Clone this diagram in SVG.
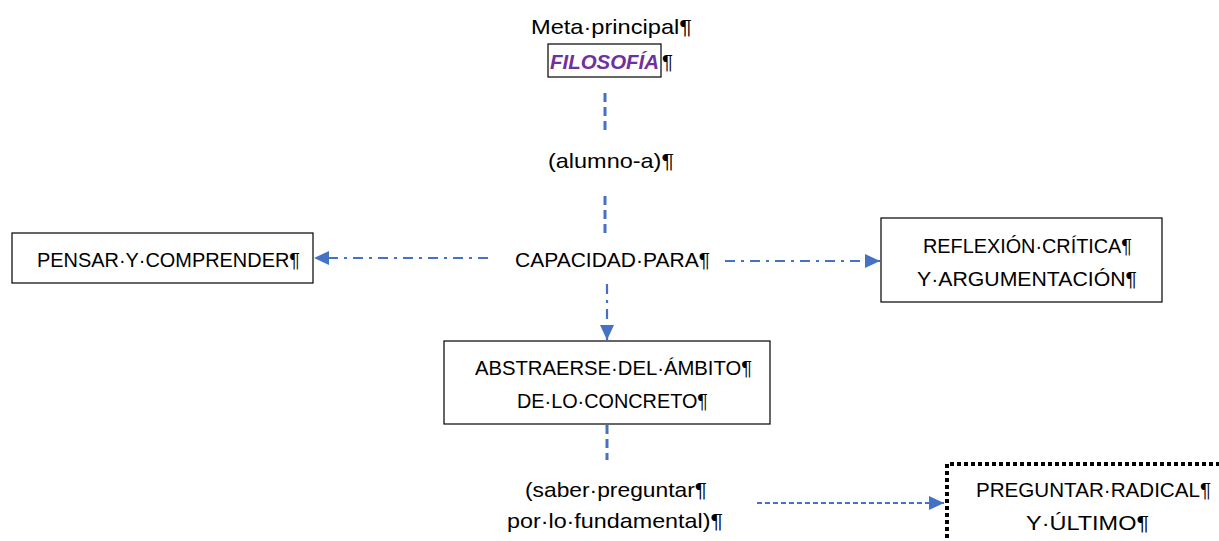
<svg xmlns="http://www.w3.org/2000/svg" width="1219" height="541" viewBox="0 0 1219 541">
<defs>
<style>
text{font-family:"Liberation Sans",Arial,sans-serif;font-size:21px;fill:#000}
.box{fill:#fff;stroke:#000;stroke-width:1.2}
.c{fill:none;stroke:#4472C4}
.dash{stroke-width:3;stroke-dasharray:9 5}
.dd{stroke-width:2.2;stroke-dasharray:10 6 3 6}
.sd{stroke-width:2.2;stroke-dasharray:5 3}
</style>
<marker id="ah" markerUnits="userSpaceOnUse" markerWidth="16" markerHeight="14" refX="15" refY="7" orient="auto">
<path d="M0,0 L15,7 L0,14 Z" fill="#4472C4"/>
</marker>
</defs>
<rect width="1219" height="541" fill="#fff"/>
<g id="connectors">
<line class="c dash" x1="605" y1="93" x2="605" y2="134"/>
<line class="c dash" x1="605" y1="196" x2="605" y2="233"/>
<line class="c dd" x1="488" y1="258" x2="314" y2="258" marker-end="url(#ah)"/>
<line class="c dd" x1="725" y1="261" x2="880" y2="261" marker-end="url(#ah)"/>
<line class="c dd" x1="607" y1="284" x2="607" y2="340" marker-end="url(#ah)"/>
<line class="c dash" x1="607" y1="425" x2="607" y2="460"/>
<line class="c sd" x1="757" y1="503" x2="944" y2="503" marker-end="url(#ah)"/>
</g>
<g id="meta">
<text x="531" y="34" textLength="161" lengthAdjust="spacingAndGlyphs">Meta·principal¶</text>
<rect class="box" x="548" y="44" width="113" height="33"/>
<text x="550" y="69" textLength="109" lengthAdjust="spacingAndGlyphs" style="font-style:italic;font-weight:bold;fill:#7030A0">FILOSOFÍA</text>
<text x="662" y="69" textLength="11" lengthAdjust="spacingAndGlyphs">¶</text>
</g>
<g id="alumno">
<text x="548" y="168" textLength="126" lengthAdjust="spacingAndGlyphs">(alumno-a)¶</text>
</g>
<g id="capacidad">
<text x="515" y="267" textLength="195" lengthAdjust="spacingAndGlyphs">CAPACIDAD·PARA¶</text>
</g>
<g id="pensar">
<rect class="box" x="12" y="233" width="301" height="50"/>
<text x="37" y="267" textLength="263" lengthAdjust="spacingAndGlyphs">PENSAR·Y·COMPRENDER¶</text>
</g>
<g id="reflexion">
<rect class="box" x="881" y="218" width="281" height="84"/>
<text x="923" y="253" textLength="209" lengthAdjust="spacingAndGlyphs">REFLEXIÓN·CRÍTICA¶</text>
<text x="917" y="286" textLength="220" lengthAdjust="spacingAndGlyphs">Y·ARGUMENTACIÓN¶</text>
</g>
<g id="abstraerse">
<rect class="box" x="444" y="341" width="326" height="83"/>
<text x="475" y="375" textLength="277" lengthAdjust="spacingAndGlyphs">ABSTRAERSE·DEL·ÁMBITO¶</text>
<text x="517" y="408" textLength="191" lengthAdjust="spacingAndGlyphs">DE·LO·CONCRETO¶</text>
</g>
<g id="saber">
<text x="525" y="497" textLength="182" lengthAdjust="spacingAndGlyphs">(saber·preguntar¶</text>
<text x="507" y="528" textLength="216" lengthAdjust="spacingAndGlyphs">por·lo·fundamental)¶</text>
</g>
<g id="preguntar">
<path d="M947,545 V464 H1225" fill="none" stroke="#000" stroke-width="4" stroke-dasharray="4 3"/>
<text x="976" y="497" textLength="235" lengthAdjust="spacingAndGlyphs">PREGUNTAR·RADICAL¶</text>
<text x="1026" y="530" textLength="123" lengthAdjust="spacingAndGlyphs">Y·ÚLTIMO¶</text>
</g>
</svg>
